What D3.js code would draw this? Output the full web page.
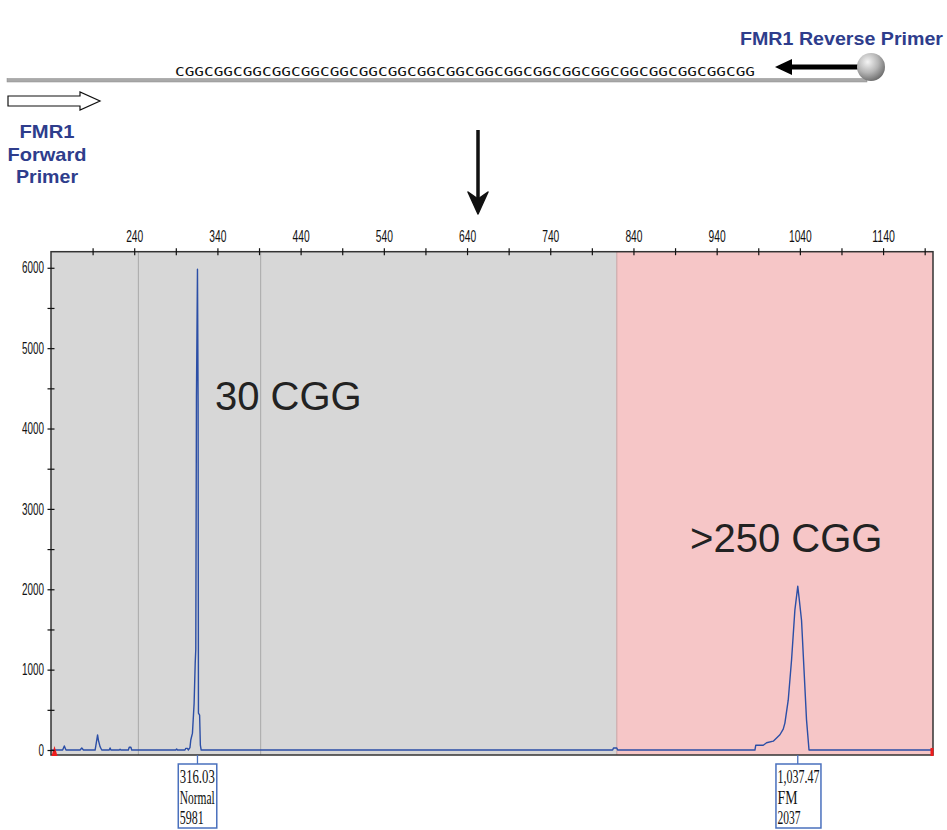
<!DOCTYPE html>
<html>
<head>
<meta charset="utf-8">
<style>
  body { margin: 0; background: #fff; }
  svg { display: block; font-family: "Liberation Sans", Arial, sans-serif; }
  .axis .domain { display: none; }
  .axis text { font-family: "Liberation Sans Narrow", "Liberation Sans", sans-serif; font-size: 16px; fill: #111; }
  .axis line { stroke: #111; stroke-width: 1.2px; }
  .primer { fill: #2e3d8c; font-weight: bold; font-size: 19px; }
  .peaklab text { font-family: "Liberation Serif", "Times New Roman", serif; font-size: 19px; fill: #111; }
</style>
</head>
<body>
<div id="chart"></div>
<script src="https://cdnjs.cloudflare.com/ajax/libs/d3/7.8.5/d3.min.js"></script>
<script>

// trace of the capillary run: size (bp) vs signal (RFU)
var traceBp  = [140, 154, 156, 158, 175, 177, 179, 193, 194, 196, 197, 198, 199, 201, 210, 211, 212,
                222, 223, 224, 233, 234, 236, 237, 290, 291, 292, 301, 302, 304, 305, 307, 308, 310,
                312, 313.3, 314, 314.8, 316.03, 316.8, 317.2, 318.6, 319.5, 320.5,
                815, 816, 820, 821, 986, 987, 996, 1000, 1008, 1012, 1016, 1020, 1022, 1026, 1030,
                1034, 1037.47, 1039, 1042, 1045, 1048, 1051, 1200];
var traceRfu = [0, 0, 50, 0, 0, 25, 0, 0, 60, 187, 120, 80, 40, 0, 0, 25, 0,
                0, 10, 0, 0, 35, 35, 0, 0, 12, 0, 0, 20, 20, 0, 30, 125, 210,
                580, 1080, 1250, 4380, 5981, 4300, 460, 435, 60, 0,
                0, 25, 25, 0, 0, 60, 60, 90, 110, 150, 190, 260, 335, 620, 1120,
                1740, 2037, 1900, 1615, 995, 375, 0, 0];

// called peaks
var peakSize  = [316.03, 1037.47];
var peakSizeLabel = ["316.03", "1,037.47"];
var peakCall  = ["Normal", "FM"];
var peakHeight = ["5981", "2037"];

// shaded size bins and bin edges
var binStart = [140, 820];
var binEnd   = [820, 1200];
var binColor = ["#d7d7d7", "#f6c6c7"];
var binLines = [245, 392];

// axis ticks
var xMajor = [240, 340, 440, 540, 640, 740, 840, 940, 1040, 1140];
var xMinor = d3.range(190, 1200, 50);
var yMajor = [0, 1000, 2000, 3000, 4000, 5000, 6000];
var yMinor = d3.range(0, 6001, 500);

// annotations (position in data units)
var noteText = ["30 CGG", ">250 CGG"];
var noteBp   = [337, 908];
var noteRfu  = [4229, 2463];

var repeatCount = 20;

var W = 947, H = 830;
var svg = d3.select("#chart").append("svg").attr("width", W).attr("height", H);

var defs = svg.append("defs");
var grad = defs.append("radialGradient").attr("id", "ball").attr("cx", "38%").attr("cy", "32%").attr("r", "70%");
grad.append("stop").attr("offset", "0%").attr("stop-color", "#f4f4f4");
grad.append("stop").attr("offset", "55%").attr("stop-color", "#b5b5b5");
grad.append("stop").attr("offset", "100%").attr("stop-color", "#6e6e6e");

// ---------- schematic on top ----------
var schem = svg.append("g");

schem.append("rect").attr("x", 7).attr("y", 78.5).attr("width", 860).attr("height", 3.5)
  .attr("fill", "#a9a9a9").attr("stroke", "#8a8a8a").attr("stroke-width", 0.5);

schem.append("text")
  .attr("x", 175).attr("y", 76)
  .attr("textLength", 580).attr("lengthAdjust", "spacingAndGlyphs")
  .style("font-family", "'DejaVu Sans Mono', monospace").style("font-size", "12.5px").style("fill", "#111")
  .text(d3.range(repeatCount).map(function() { return "CGG"; }).join(""));

// reverse primer arrow + ball
schem.append("path")
  .attr("d", "M775,67 L792,59 L792,64.5 L862,64.5 L862,69.5 L792,69.5 L792,75 Z")
  .attr("fill", "#000");
schem.append("circle").attr("cx", 871).attr("cy", 67).attr("r", 14).attr("fill", "url(#ball)");

schem.append("text").attr("class", "primer")
  .attr("x", 943).attr("y", 45).attr("text-anchor", "end")
  .attr("textLength", 203).attr("lengthAdjust", "spacingAndGlyphs")
  .text("FMR1 Reverse Primer");

// forward primer arrow
schem.append("path")
  .attr("d", "M8,96 L80,96 L80,92 L100,101 L80,110 L80,106 L8,106 Z")
  .attr("fill", "#fff").attr("stroke", "#111").attr("stroke-width", 1.2);

var fwd = ["FMR1", "Forward", "Primer"];
var fwdW = [55, 79, 62];
schem.selectAll(".fwd").data(fwd).enter().append("text")
  .attr("class", "primer")
  .attr("x", 47).attr("y", function(d, i) { return 138 + i * 22.5; })
  .attr("text-anchor", "middle")
  .attr("textLength", function(d, i) { return fwdW[i]; }).attr("lengthAdjust", "spacingAndGlyphs")
  .text(function(d) { return d; });

// down arrow
schem.append("line").attr("x1", 478).attr("x2", 478).attr("y1", 130).attr("y2", 200)
  .attr("stroke", "#111").attr("stroke-width", 3.5);
schem.append("path").attr("d", "M478,214 L468,192 L478,199 L488,192 Z")
  .attr("fill", "#111").attr("stroke", "#111").attr("stroke-width", 1.5).attr("stroke-linejoin", "round");

// ---------- electropherogram ----------
var x = d3.scaleLinear().domain([140, 1200]).range([51, 933]);
var y = d3.scaleLinear().domain([-62, 6200]).range([755, 251.7]);

var plot = svg.append("g");

plot.selectAll(".bin").data(binStart).enter().append("rect")
  .attr("x", function(d) { return x(d); })
  .attr("y", y(6200))
  .attr("width", function(d, i) { return x(binEnd[i]) - x(d); })
  .attr("height", y(-62) - y(6200))
  .attr("fill", function(d, i) { return binColor[i]; });

plot.append("line")
  .attr("x1", x(binStart[1])).attr("x2", x(binStart[1]))
  .attr("y1", y(6200)).attr("y2", y(-62))
  .attr("stroke", "#c7a3a4").attr("stroke-width", 1);

plot.selectAll(".binline").data(binLines).enter().append("line")
  .attr("x1", function(d) { return x(d); }).attr("x2", function(d) { return x(d); })
  .attr("y1", y(6200)).attr("y2", y(-62))
  .attr("stroke", "#a8a8a8").attr("stroke-width", 1);

var line = d3.line()
  .x(function(d, i) { return x(traceBp[i]); })
  .y(function(d) { return y(d); });

plot.append("path")
  .attr("d", line(traceRfu))
  .attr("fill", "none").attr("stroke", "#2b4ea6").attr("stroke-width", 1.4)
  .attr("stroke-linejoin", "round");

// frame
plot.append("rect")
  .attr("x", x(140)).attr("y", y(6200))
  .attr("width", x(1200) - x(140)).attr("height", y(-62) - y(6200))
  .attr("fill", "none").attr("stroke", "#333").attr("stroke-width", 1.5);

// red end markers
plot.append("path")
  .attr("d", "M" + (x(140) + 0.5) + "," + (y(-62) + 1) + " L" + (x(140) + 3.5) + "," + (y(-62) - 9) +
             " L" + (x(140) + 6.5) + "," + (y(-62) + 1) + " Z")
  .attr("fill", "#ee1c1c");
plot.append("rect")
  .attr("x", x(1200) - 2.5).attr("y", y(-62) - 7).attr("width", 3).attr("height", 8)
  .attr("fill", "#ee1c1c");

// top axis
var xAxis = svg.append("g").attr("class", "axis")
  .attr("transform", "translate(0," + y(6200) + ")")
  .call(d3.axisTop(x).tickValues(xMinor).tickSize(4).tickPadding(6)
    .tickFormat(function(d) { return xMajor.indexOf(d) >= 0 ? d : ""; }));
xAxis.selectAll(".tick line").attr("y1", 3.5).attr("y2", -3.5);
xAxis.selectAll(".tick text")
  .attr("textLength", function(d) { return xMajor.indexOf(d) >= 0 ? String(d).length * 5.7 : null; })
  .attr("lengthAdjust", "spacingAndGlyphs");

// left axis
var yAxis = svg.append("g").attr("class", "axis")
  .attr("transform", "translate(" + x(140) + ",0)")
  .call(d3.axisLeft(y).tickValues(yMinor).tickSize(4).tickPadding(3)
    .tickFormat(function(d) { return yMajor.indexOf(d) >= 0 ? d : ""; }));
yAxis.selectAll(".tick line").attr("x1", 3.5).attr("x2", -3.5);
yAxis.selectAll(".tick text")
  .attr("textLength", function(d) { return yMajor.indexOf(d) >= 0 ? String(d).length * 5.5 : null; })
  .attr("lengthAdjust", "spacingAndGlyphs");

// annotations
svg.selectAll(".note").data(noteText).enter().append("text")
  .attr("x", function(d, i) { return x(noteBp[i]); })
  .attr("y", function(d, i) { return y(noteRfu[i]); })
  .style("font-size", "40px").style("fill", "#222")
  .text(function(d) { return d; });

// peak label boxes
var boxW = [38.5, 45];
var boxOff = [19.2, 21.8];
var lw = [[35, 35, 24], [42, 20, 23]];
var lab = svg.selectAll(".peaklab").data(peakSize).enter().append("g").attr("class", "peaklab");
lab.append("line")
  .attr("x1", function(d) { return x(d); }).attr("x2", function(d) { return x(d); })
  .attr("y1", y(-62)).attr("y2", 764)
  .attr("stroke", "#4a70bd").attr("stroke-width", 1.3);
lab.append("rect")
  .attr("x", function(d, i) { return x(d) - boxOff[i]; }).attr("y", 764)
  .attr("width", function(d, i) { return boxW[i]; }).attr("height", 64)
  .attr("fill", "#fff").attr("stroke", "#4a70bd").attr("stroke-width", 1.5);
lab.each(function(d, i) {
  var g = d3.select(this);
  [peakSizeLabel[i], peakCall[i], peakHeight[i]].forEach(function(t, j) {
    g.append("text")
      .attr("x", x(d) - boxOff[i] + 1.5)
      .attr("y", 783 + j * 20.5)
      .attr("textLength", lw[i][j]).attr("lengthAdjust", "spacingAndGlyphs")
      .text(t);
  });
});

</script>
</body>
</html>
